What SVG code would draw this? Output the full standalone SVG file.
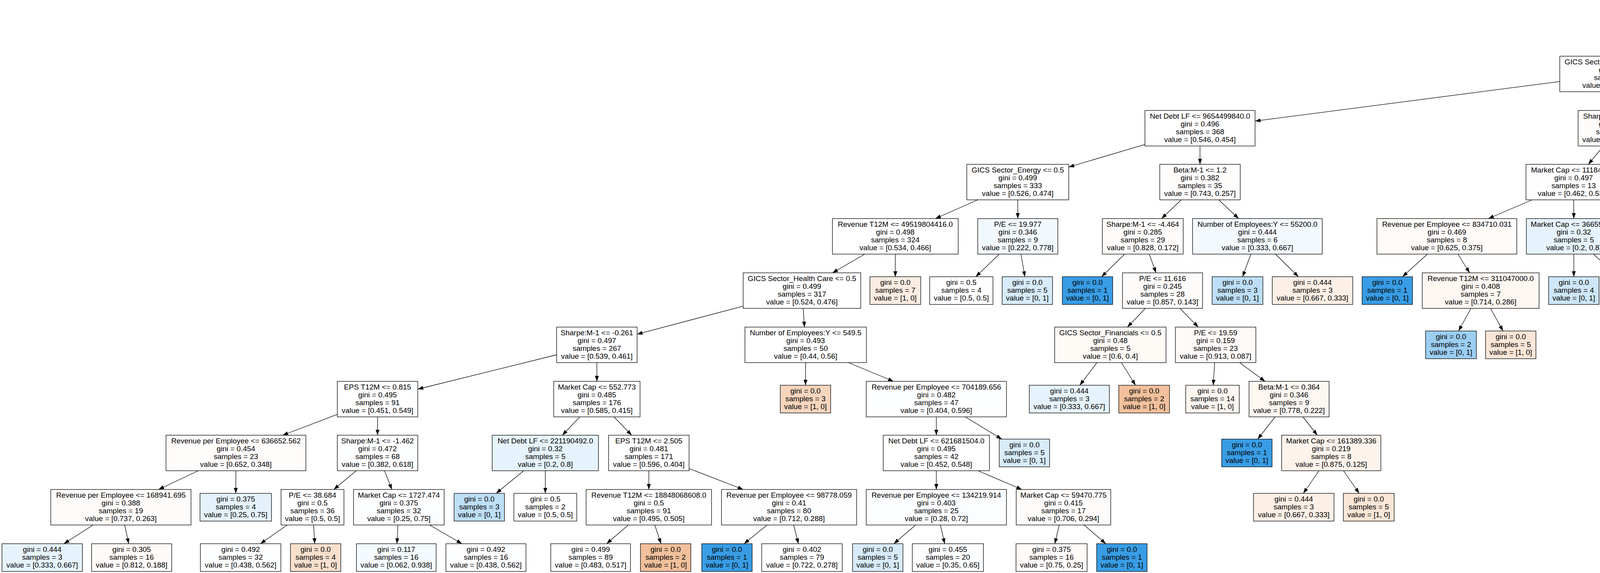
<svg xmlns="http://www.w3.org/2000/svg" width="6170" height="1468" viewBox="0 0 6170 1468">
<style>
.node rect{stroke:#000;stroke-width:1.3}
text{font-family:"Liberation Sans",Arial,Helvetica,sans-serif;font-size:19px;text-anchor:middle;fill:#000}
.edges path{stroke:#000;stroke-width:1.3;fill:none;marker-end:url(#ah)}
</style>
<defs>
<marker id="ah" viewBox="0 0 14 10" refX="14" refY="5" markerWidth="14" markerHeight="10" markerUnits="userSpaceOnUse" orient="auto"><path d="M0,0 L14,5 L0,10 z" fill="#000"/></marker>
</defs>
<rect x="0" y="0" width="6170" height="1468" fill="#ffffff"/>
<g id="edges" class="edges">
<path d="M4438.8 96 L4286.7 144"/>
<path d="M4704.1 96 L4850 150.8"/>
<path d="M3993 208.9 L3213 310.2"/>
<path d="M4142.5 235 L4142.5 283"/>
<path d="M4953 235 L4953 283"/>
<path d="M5056 227.8 L5224 290.4"/>
<path d="M2931 370.2 L2736 427.9"/>
<path d="M3072 374 L3072 421"/>
<path d="M4104.9 374 L4066.1 421"/>
<path d="M4180.3 374 L4219.2 421"/>
<path d="M4891 374 L4827 421"/>
<path d="M4974.1 374 L5000.5 431"/>
<path d="M5326.5 374 L5326.5 421"/>
<path d="M5400.4 374 L5492.9 431"/>
<path d="M2502.9 512 L2394.6 560"/>
<path d="M2605.5 512 L2605.5 560"/>
<path d="M3024 512 L2973.5 560"/>
<path d="M3120.1 512 L3170.9 560"/>
<path d="M3922.3 512 L3810.2 560"/>
<path d="M4028.5 512 L4029 560"/>
<path d="M4257 512 L4256.5 570"/>
<path d="M4312 512 L4382.1 570"/>
<path d="M4716.6 512 L4665.4 560"/>
<path d="M4809.2 512 L4855.8 560"/>
<path d="M5326.5 512 L5326.5 560"/>
<path d="M5438.3 512 L5556.2 560"/>
<path d="M2213.8 651 L2131.2 699"/>
<path d="M2292 651 L2292 709"/>
<path d="M2558.2 651 L2497.9 709"/>
<path d="M2613.5 651 L2623.7 709"/>
<path d="M2879.2 651 L2820.1 709"/>
<path d="M2942 651 L2959.5 699"/>
<path d="M3202.3 651 L3181 709"/>
<path d="M3265.2 651 L3324 709"/>
<path d="M3654.1 651 L3590.4 709"/>
<path d="M3732.3 651 L3762.2 699"/>
<path d="M4029 651 L4029 709"/>
<path d="M4079.1 651 L4142.9 709"/>
<path d="M4554.2 651 L4474 709"/>
<path d="M4617 651 L4617 709"/>
<path d="M4882.5 651 L4864 699"/>
<path d="M4957.6 651 L5018.4 699"/>
<path d="M5307.4 651 L5282.9 709"/>
<path d="M5370.2 651 L5416.3 699"/>
<path d="M5668 651 L5668 709"/>
<path d="M5748.5 651 L5833.5 699"/>
<path d="M1902.5 784.3 L1631 856.2"/>
<path d="M2056.1 790 L2059.4 838"/>
<path d="M2932.3 790 L2886.2 838"/>
<path d="M3020.5 790 L3067.5 838"/>
<path d="M3765.6 790 L3733.9 848"/>
<path d="M3815.7 790 L3847.8 848"/>
<path d="M4792 790 L4722.5 848"/>
<path d="M4847.5 790 L4848.7 848"/>
<path d="M5059.8 790 L5039.1 848"/>
<path d="M5122.8 790 L5182.5 848"/>
<path d="M5447.7 790 L5432.1 848"/>
<path d="M5526 790 L5595.5 838"/>
<path d="M5912.9 790 L5911.4 848"/>
<path d="M5969.6 790 L6040.6 848"/>
<path d="M1425 909 L1069.5 997"/>
<path d="M1528 929 L1528 977"/>
<path d="M2062.5 929 L2062 987"/>
<path d="M2172 929 L2287.5 977"/>
<path d="M2808.1 929 L2764.3 987"/>
<path d="M2870.8 929 L2906.9 987"/>
<path d="M3109.4 929 L3106 987"/>
<path d="M3173.5 929 L3238.5 977"/>
<path d="M5631.9 929 L5594.1 987"/>
<path d="M5690.6 929 L5727.8 987"/>
<path d="M863.5 1061.7 L723.5 1115"/>
<path d="M966.5 1068 L966.5 1115"/>
<path d="M1484.5 1068 L1439.5 1115"/>
<path d="M1571.9 1068 L1617.1 1115"/>
<path d="M2397 1068 L2397 1115"/>
<path d="M2471.3 1068 L2564.5 1125"/>
<path d="M3264.4 1068 L3219.8 1125"/>
<path d="M3335.6 1068 L3372.4 1115"/>
<path d="M507.6 1206 L405.9 1254"/>
<path d="M604 1206 L603.5 1264"/>
<path d="M912 1206 L854.5 1254"/>
<path d="M984.3 1206 L1003.2 1254"/>
<path d="M1340.7 1206 L1270.2 1264"/>
<path d="M1396 1206 L1396 1264"/>
<path d="M1661 1206 L1661 1254"/>
<path d="M1764 1200.4 L1902.5 1254"/>
<path d="M2397 1206 L2397 1254"/>
<path d="M2503.5 1206 L2616 1254"/>
<path d="M3376.6 1206 L3336.5 1264"/>
<path d="M3439.4 1206 L3479.5 1264"/>
<path d="M238.4 1345 L163.5 1393"/>
<path d="M319.2 1345 L329.4 1393"/>
<path d="M735.1 1345 L666.6 1393"/>
<path d="M802.8 1345 L805.8 1393"/>
<path d="M1018.7 1345 L1016.3 1393"/>
<path d="M1099.7 1345 L1182.6 1393"/>
<path d="M1608.4 1345 L1553 1393"/>
<path d="M1676.2 1345 L1692.2 1393"/>
<path d="M1963.9 1345 L1904.8 1393"/>
<path d="M2031.6 1345 L2043.9 1393"/>
<path d="M2344.1 1345 L2288.3 1393"/>
<path d="M2407.4 1345 L2418.4 1393"/>
<path d="M2711.7 1345 L2700.4 1393"/>
<path d="M2775.2 1345 L2830.9 1393"/>
</g>
<g id="edge-labels">
<text x="4300" y="120">True</text>
<text x="4836" y="125">False</text>
</g>
<rect x="4809" y="27" width="72" height="48" fill="#000000"/>
<g id="n0" class="node"><rect x="4381" y="5" width="404" height="91" fill="#ffffff"/><text y="26"><tspan x="4583">GICS Sector_Consumer Discretionary &lt;= 0.5</tspan><tspan x="4583" dy="20">gini = 0.488</tspan><tspan x="4583" dy="20">samples = 458</tspan><tspan x="4583" dy="20">value = [0.579, 0.421]</tspan></text></g>
<g id="n1" class="node"><rect x="3993" y="144" width="299" height="91" fill="#ffffff"/><text y="165"><tspan x="4142.5">GICS Sector_Real Estate &lt;= 0.5</tspan><tspan x="4142.5" dy="20">gini = 0.495</tspan><tspan x="4142.5" dy="20">samples = 391</tspan><tspan x="4142.5" dy="20">value = [0.552, 0.448]</tspan></text></g>
<g id="n2" class="node"><rect x="4850" y="144" width="206" height="91" fill="#fffefe"/><text y="165"><tspan x="4953">Sharpe:M-1 &lt;= -0.588</tspan><tspan x="4953" dy="20">gini = 0.393</tspan><tspan x="4953" dy="20">samples = 67</tspan><tspan x="4953" dy="20">value = [0.731, 0.269]</tspan></text></g>
<g id="n3" class="node"><rect x="2931" y="283" width="282" height="91" fill="#ffffff"/><text y="304"><tspan x="3072">Net Debt LF &lt;= 9654499840.0</tspan><tspan x="3072" dy="20">gini = 0.496</tspan><tspan x="3072" dy="20">samples = 368</tspan><tspan x="3072" dy="20">value = [0.546, 0.454]</tspan></text></g>
<g id="n4" class="node"><rect x="4040" y="283" width="205" height="91" fill="#fffdfc"/><text y="304"><tspan x="4142.5">Sharpe:M-1 &lt;= 0.207</tspan><tspan x="4142.5" dy="20">gini = 0.454</tspan><tspan x="4142.5" dy="20">samples = 23</tspan><tspan x="4142.5" dy="20">value = [0.652, 0.348]</tspan></text></g>
<g id="n9" class="node"><rect x="4832" y="283" width="242" height="91" fill="#fffefd"/><text y="304"><tspan x="4953">Market Cap &lt;= 13710.964</tspan><tspan x="4953" dy="20">gini = 0.464</tspan><tspan x="4953" dy="20">samples = 30</tspan><tspan x="4953" dy="20">value = [0.633, 0.367]</tspan></text></g>
<g id="n10" class="node"><rect x="5224" y="283" width="205" height="91" fill="#fffdfc"/><text y="304"><tspan x="5326.5">EPS T12M &lt;= 3.072</tspan><tspan x="5326.5" dy="20">gini = 0.307</tspan><tspan x="5326.5" dy="20">samples = 37</tspan><tspan x="5326.5" dy="20">value = [0.811, 0.189]</tspan></text></g>
<g id="n5" class="node"><rect x="2475" y="421" width="261" height="91" fill="#ffffff"/><text y="442"><tspan x="2605.5">GICS Sector_Energy &lt;= 0.5</tspan><tspan x="2605.5" dy="20">gini = 0.499</tspan><tspan x="2605.5" dy="20">samples = 333</tspan><tspan x="2605.5" dy="20">value = [0.526, 0.474]</tspan></text></g>
<g id="n6" class="node"><rect x="2969" y="421" width="206" height="91" fill="#fffdfc"/><text y="442"><tspan x="3072">Beta:M-1 &lt;= 1.2</tspan><tspan x="3072" dy="20">gini = 0.382</tspan><tspan x="3072" dy="20">samples = 35</tspan><tspan x="3072" dy="20">value = [0.743, 0.257]</tspan></text></g>
<g id="n7" class="node"><rect x="3906.5" y="421" width="244" height="91" fill="#fefeff"/><text y="442"><tspan x="4028.5">Market Cap &lt;= 11184.961</tspan><tspan x="4028.5" dy="20">gini = 0.497</tspan><tspan x="4028.5" dy="20">samples = 13</tspan><tspan x="4028.5" dy="20">value = [0.462, 0.538]</tspan></text></g>
<g id="n8" class="node"><rect x="4172" y="421" width="170" height="91" fill="#fdf5ef"/><text y="442"><tspan x="4257">Beta:M-1 &lt;= 0.71</tspan><tspan x="4257" dy="20">gini = 0.18</tspan><tspan x="4257" dy="20">samples = 10</tspan><tspan x="4257" dy="20">value = [0.9, 0.1]</tspan></text></g>
<g id="n19" class="node"><rect x="4629" y="421" width="272" height="91" fill="#fffdfc"/><text y="442"><tspan x="4765">Net Debt LF &lt;= 414603504.0</tspan><tspan x="4765" dy="20">gini = 0.426</tspan><tspan x="4765" dy="20">samples = 26</tspan><tspan x="4765" dy="20">value = [0.692, 0.308]</tspan></text></g>
<g id="n20" class="node"><rect x="4924.5" y="431" width="185" height="71" fill="#e5f2fc"/><text y="452"><tspan x="5017">gini = 0.375</tspan><tspan x="5017" dy="20">samples = 4</tspan><tspan x="5017" dy="20">value = [0.25, 0.75]</tspan></text></g>
<g id="n21" class="node"><rect x="5195.5" y="421" width="262" height="91" fill="#fffdfc"/><text y="442"><tspan x="5326.5">Net Debt LF &lt;= 83064000.0</tspan><tspan x="5326.5" dy="20">gini = 0.413</tspan><tspan x="5326.5" dy="20">samples = 24</tspan><tspan x="5326.5" dy="20">value = [0.708, 0.292]</tspan></text></g>
<g id="n22" class="node"><rect x="5481.5" y="431" width="138" height="71" fill="#fdf5f0"/><text y="452"><tspan x="5550.5">gini = 0.0</tspan><tspan x="5550.5" dy="20">samples = 13</tspan><tspan x="5550.5" dy="20">value = [1, 0]</tspan></text></g>
<g id="n11" class="node"><rect x="2131" y="560" width="322" height="91" fill="#ffffff"/><text y="581"><tspan x="2292">Revenue T12M &lt;= 49519804416.0</tspan><tspan x="2292" dy="20">gini = 0.498</tspan><tspan x="2292" dy="20">samples = 324</tspan><tspan x="2292" dy="20">value = [0.534, 0.466]</tspan></text></g>
<g id="n12" class="node"><rect x="2503" y="560" width="205" height="91" fill="#f2f9fd"/><text y="581"><tspan x="2605.5">P/E &lt;= 19.977</tspan><tspan x="2605.5" dy="20">gini = 0.346</tspan><tspan x="2605.5" dy="20">samples = 9</tspan><tspan x="2605.5" dy="20">value = [0.222, 0.778]</tspan></text></g>
<g id="n13" class="node"><rect x="2822" y="560" width="207" height="91" fill="#fefcfa"/><text y="581"><tspan x="2925.5">Sharpe:M-1 &lt;= -4.464</tspan><tspan x="2925.5" dy="20">gini = 0.285</tspan><tspan x="2925.5" dy="20">samples = 29</tspan><tspan x="2925.5" dy="20">value = [0.828, 0.172]</tspan></text></g>
<g id="n14" class="node"><rect x="3053" y="560" width="332" height="91" fill="#f3f9fd"/><text y="581"><tspan x="3219">Number of Employees:Y &lt;= 55200.0</tspan><tspan x="3219" dy="20">gini = 0.444</tspan><tspan x="3219" dy="20">samples = 6</tspan><tspan x="3219" dy="20">value = [0.333, 0.667]</tspan></text></g>
<g id="n15" class="node"><rect x="3525" y="560" width="358" height="91" fill="#fefbf8"/><text y="581"><tspan x="3704">Revenue per Employee &lt;= 834710.031</tspan><tspan x="3704" dy="20">gini = 0.469</tspan><tspan x="3704" dy="20">samples = 8</tspan><tspan x="3704" dy="20">value = [0.625, 0.375]</tspan></text></g>
<g id="n16" class="node"><rect x="3907.5" y="560" width="243" height="91" fill="#e6f3fc"/><text y="581"><tspan x="4029">Market Cap &lt;= 36659.513</tspan><tspan x="4029" dy="20">gini = 0.32</tspan><tspan x="4029" dy="20">samples = 5</tspan><tspan x="4029" dy="20">value = [0.2, 0.8]</tspan></text></g>
<g id="n17" class="node"><rect x="4175.5" y="570" width="162" height="71" fill="#ffffff"/><text y="591"><tspan x="4256.5">gini = 0.5</tspan><tspan x="4256.5" dy="20">samples = 2</tspan><tspan x="4256.5" dy="20">value = [0.5, 0.5]</tspan></text></g>
<g id="n18" class="node"><rect x="4360" y="570" width="130" height="71" fill="#fcefe6"/><text y="591"><tspan x="4425">gini = 0.0</tspan><tspan x="4425" dy="20">samples = 8</tspan><tspan x="4425" dy="20">value = [1, 0]</tspan></text></g>
<g id="n23" class="node"><rect x="4514.5" y="560" width="205" height="91" fill="#fdf6f0"/><text y="581"><tspan x="4617">Beta:M-1 &lt;= 2.133</tspan><tspan x="4617" dy="20">gini = 0.165</tspan><tspan x="4617" dy="20">samples = 11</tspan><tspan x="4617" dy="20">value = [0.909, 0.091]</tspan></text></g>
<g id="n24" class="node"><rect x="4744.5" y="560" width="311" height="91" fill="#fffefe"/><text y="581"><tspan x="4900">Revenue T12M &lt;= 3368857472.0</tspan><tspan x="4900" dy="20">gini = 0.498</tspan><tspan x="4900" dy="20">samples = 15</tspan><tspan x="4900" dy="20">value = [0.533, 0.467]</tspan></text></g>
<g id="n25" class="node"><rect x="5228.5" y="560" width="196" height="91" fill="#ffffff"/><text y="581"><tspan x="5326.5">EPS T12M &lt;= 0.655</tspan><tspan x="5326.5" dy="20">gini = 0.5</tspan><tspan x="5326.5" dy="20">samples = 10</tspan><tspan x="5326.5" dy="20">value = [0.5, 0.5]</tspan></text></g>
<g id="n26" class="node"><rect x="5507.5" y="560" width="321" height="91" fill="#fef9f5"/><text y="581"><tspan x="5668">Number of Employees:Y &lt;= 5200.0</tspan><tspan x="5668" dy="20">gini = 0.245</tspan><tspan x="5668" dy="20">samples = 14</tspan><tspan x="5668" dy="20">value = [0.857, 0.143]</tspan></text></g>
<g id="n27" class="node"><rect x="1902.5" y="699" width="301" height="91" fill="#ffffff"/><text y="720"><tspan x="2053">GICS Sector_Health Care &lt;= 0.5</tspan><tspan x="2053" dy="20">gini = 0.499</tspan><tspan x="2053" dy="20">samples = 317</tspan><tspan x="2053" dy="20">value = [0.524, 0.476]</tspan></text></g>
<g id="n28" class="node"><rect x="2227" y="709" width="130" height="71" fill="#fbede3"/><text y="730"><tspan x="2292">gini = 0.0</tspan><tspan x="2292" dy="20">samples = 7</tspan><tspan x="2292" dy="20">value = [1, 0]</tspan></text></g>
<g id="n29" class="node"><rect x="2380" y="709" width="162" height="71" fill="#ffffff"/><text y="730"><tspan x="2461">gini = 0.5</tspan><tspan x="2461" dy="20">samples = 4</tspan><tspan x="2461" dy="20">value = [0.5, 0.5]</tspan></text></g>
<g id="n30" class="node"><rect x="2565.5" y="709" width="129" height="71" fill="#d7ebfa"/><text y="730"><tspan x="2630">gini = 0.0</tspan><tspan x="2630" dy="20">samples = 5</tspan><tspan x="2630" dy="20">value = [0, 1]</tspan></text></g>
<g id="n31" class="node"><rect x="2719.5" y="709" width="129" height="71" fill="#399de5"/><text y="730"><tspan x="2784">gini = 0.0</tspan><tspan x="2784" dy="20">samples = 1</tspan><tspan x="2784" dy="20">value = [0, 1]</tspan></text></g>
<g id="n32" class="node"><rect x="2873.5" y="699" width="205" height="91" fill="#fefcfa"/><text y="720"><tspan x="2976">P/E &lt;= 11.616</tspan><tspan x="2976" dy="20">gini = 0.245</tspan><tspan x="2976" dy="20">samples = 28</tspan><tspan x="2976" dy="20">value = [0.857, 0.143]</tspan></text></g>
<g id="n33" class="node"><rect x="3103" y="709" width="130" height="71" fill="#bddef6"/><text y="730"><tspan x="3168">gini = 0.0</tspan><tspan x="3168" dy="20">samples = 3</tspan><tspan x="3168" dy="20">value = [0, 1]</tspan></text></g>
<g id="n34" class="node"><rect x="3257" y="709" width="206" height="71" fill="#fcefe6"/><text y="730"><tspan x="3360">gini = 0.444</tspan><tspan x="3360" dy="20">samples = 3</tspan><tspan x="3360" dy="20">value = [0.667, 0.333]</tspan></text></g>
<g id="n35" class="node"><rect x="3487" y="709" width="129" height="71" fill="#399de5"/><text y="730"><tspan x="3551.5">gini = 0.0</tspan><tspan x="3551.5" dy="20">samples = 1</tspan><tspan x="3551.5" dy="20">value = [0, 1]</tspan></text></g>
<g id="n36" class="node"><rect x="3641" y="699" width="299" height="91" fill="#fdf7f2"/><text y="720"><tspan x="3790.5">Revenue T12M &lt;= 311047000.0</tspan><tspan x="3790.5" dy="20">gini = 0.408</tspan><tspan x="3790.5" dy="20">samples = 7</tspan><tspan x="3790.5" dy="20">value = [0.714, 0.286]</tspan></text></g>
<g id="n37" class="node"><rect x="3964.5" y="709" width="129" height="71" fill="#cee6f8"/><text y="730"><tspan x="4029">gini = 0.0</tspan><tspan x="4029" dy="20">samples = 4</tspan><tspan x="4029" dy="20">value = [0, 1]</tspan></text></g>
<g id="n38" class="node"><rect x="4117" y="709" width="130" height="71" fill="#e58139"/><text y="730"><tspan x="4182">gini = 0.0</tspan><tspan x="4182" dy="20">samples = 1</tspan><tspan x="4182" dy="20">value = [1, 0]</tspan></text></g>
<g id="n39" class="node"><rect x="4360" y="709" width="130" height="71" fill="#fcefe6"/><text y="730"><tspan x="4425">gini = 0.0</tspan><tspan x="4425" dy="20">samples = 8</tspan><tspan x="4425" dy="20">value = [1, 0]</tspan></text></g>
<g id="n40" class="node"><rect x="4514.5" y="709" width="205" height="71" fill="#fcefe6"/><text y="730"><tspan x="4617">gini = 0.444</tspan><tspan x="4617" dy="20">samples = 3</tspan><tspan x="4617" dy="20">value = [0.667, 0.333]</tspan></text></g>
<g id="n41" class="node"><rect x="4744" y="699" width="205" height="91" fill="#e8f4fc"/><text y="720"><tspan x="4846.5">EPS T12M &lt;= 1.425</tspan><tspan x="4846.5" dy="20">gini = 0.278</tspan><tspan x="4846.5" dy="20">samples = 6</tspan><tspan x="4846.5" dy="20">value = [0.167, 0.833]</tspan></text></g>
<g id="n42" class="node"><rect x="4973" y="699" width="206" height="91" fill="#fdf7f2"/><text y="720"><tspan x="5076">Beta:M-1 &lt;= 1.512</tspan><tspan x="5076" dy="20">gini = 0.346</tspan><tspan x="5076" dy="20">samples = 9</tspan><tspan x="5076" dy="20">value = [0.778, 0.222]</tspan></text></g>
<g id="n43" class="node"><rect x="5203.5" y="709" width="129" height="71" fill="#9ccef2"/><text y="730"><tspan x="5268">gini = 0.0</tspan><tspan x="5268" dy="20">samples = 2</tspan><tspan x="5268" dy="20">value = [0, 1]</tspan></text></g>
<g id="n44" class="node"><rect x="5357" y="699" width="206" height="91" fill="#fefbf8"/><text y="720"><tspan x="5460">Sharpe:M-1 &lt;= 2.184</tspan><tspan x="5460" dy="20">gini = 0.469</tspan><tspan x="5460" dy="20">samples = 8</tspan><tspan x="5460" dy="20">value = [0.625, 0.375]</tspan></text></g>
<g id="n45" class="node"><rect x="5587.5" y="709" width="161" height="71" fill="#ffffff"/><text y="730"><tspan x="5668">gini = 0.5</tspan><tspan x="5668" dy="20">samples = 2</tspan><tspan x="5668" dy="20">value = [0.5, 0.5]</tspan></text></g>
<g id="n46" class="node"><rect x="5772.5" y="699" width="283" height="91" fill="#fdf6f1"/><text y="720"><tspan x="5914">Net Debt LF &lt;= 3552632576.0</tspan><tspan x="5914" dy="20">gini = 0.153</tspan><tspan x="5914" dy="20">samples = 12</tspan><tspan x="5914" dy="20">value = [0.917, 0.083]</tspan></text></g>
<g id="n47" class="node"><rect x="1425" y="838" width="206" height="91" fill="#ffffff"/><text y="859"><tspan x="1528">Sharpe:M-1 &lt;= -0.261</tspan><tspan x="1528" dy="20">gini = 0.497</tspan><tspan x="1528" dy="20">samples = 267</tspan><tspan x="1528" dy="20">value = [0.539, 0.461]</tspan></text></g>
<g id="n48" class="node"><rect x="1907" y="838" width="311" height="91" fill="#ffffff"/><text y="859"><tspan x="2062.5">Number of Employees:Y &lt;= 549.5</tspan><tspan x="2062.5" dy="20">gini = 0.493</tspan><tspan x="2062.5" dy="20">samples = 50</tspan><tspan x="2062.5" dy="20">value = [0.44, 0.56]</tspan></text></g>
<g id="n49" class="node"><rect x="2700" y="838" width="285" height="91" fill="#fefaf6"/><text y="859"><tspan x="2842.5">GICS Sector_Financials &lt;= 0.5</tspan><tspan x="2842.5" dy="20">gini = 0.48</tspan><tspan x="2842.5" dy="20">samples = 5</tspan><tspan x="2842.5" dy="20">value = [0.6, 0.4]</tspan></text></g>
<g id="n50" class="node"><rect x="3009" y="838" width="206" height="91" fill="#fefaf8"/><text y="859"><tspan x="3112">P/E &lt;= 19.59</tspan><tspan x="3112" dy="20">gini = 0.159</tspan><tspan x="3112" dy="20">samples = 23</tspan><tspan x="3112" dy="20">value = [0.913, 0.087]</tspan></text></g>
<g id="n51" class="node"><rect x="3649.5" y="848" width="130" height="71" fill="#9ccef2"/><text y="869"><tspan x="3714.5">gini = 0.0</tspan><tspan x="3714.5" dy="20">samples = 2</tspan><tspan x="3714.5" dy="20">value = [0, 1]</tspan></text></g>
<g id="n52" class="node"><rect x="3803" y="848" width="129" height="71" fill="#fae6d7"/><text y="869"><tspan x="3867.5">gini = 0.0</tspan><tspan x="3867.5" dy="20">samples = 5</tspan><tspan x="3867.5" dy="20">value = [1, 0]</tspan></text></g>
<g id="n53" class="node"><rect x="4599.5" y="848" width="161" height="71" fill="#ffffff"/><text y="869"><tspan x="4680">gini = 0.5</tspan><tspan x="4680" dy="20">samples = 2</tspan><tspan x="4680" dy="20">value = [0.5, 0.5]</tspan></text></g>
<g id="n54" class="node"><rect x="4784.5" y="848" width="130" height="71" fill="#cee6f8"/><text y="869"><tspan x="4849.5">gini = 0.0</tspan><tspan x="4849.5" dy="20">samples = 4</tspan><tspan x="4849.5" dy="20">value = [0, 1]</tspan></text></g>
<g id="n55" class="node"><rect x="4961.5" y="848" width="130" height="71" fill="#fbeade"/><text y="869"><tspan x="5026.5">gini = 0.0</tspan><tspan x="5026.5" dy="20">samples = 6</tspan><tspan x="5026.5" dy="20">value = [1, 0]</tspan></text></g>
<g id="n56" class="node"><rect x="5116" y="848" width="206" height="71" fill="#e6f3fc"/><text y="869"><tspan x="5219">gini = 0.444</tspan><tspan x="5219" dy="20">samples = 3</tspan><tspan x="5219" dy="20">value = [0.333, 0.667]</tspan></text></g>
<g id="n57" class="node"><rect x="5357.5" y="848" width="130" height="71" fill="#f6d5bd"/><text y="869"><tspan x="5422.5">gini = 0.0</tspan><tspan x="5422.5" dy="20">samples = 3</tspan><tspan x="5422.5" dy="20">value = [1, 0]</tspan></text></g>
<g id="n58" class="node"><rect x="5512.5" y="838" width="298" height="91" fill="#f6fbfe"/><text y="859"><tspan x="5661.5">Revenue T12M &lt;= 769378016.0</tspan><tspan x="5661.5" dy="20">gini = 0.48</tspan><tspan x="5661.5" dy="20">samples = 5</tspan><tspan x="5661.5" dy="20">value = [0.4, 0.6]</tspan></text></g>
<g id="n59" class="node"><rect x="5842" y="848" width="137" height="71" fill="#fcf2eb"/><text y="869"><tspan x="5910.5">gini = 0.0</tspan><tspan x="5910.5" dy="20">samples = 10</tspan><tspan x="5910.5" dy="20">value = [1, 0]</tspan></text></g>
<g id="n60" class="node"><rect x="6003.5" y="848" width="161" height="71" fill="#ffffff"/><text y="869"><tspan x="6084">gini = 0.5</tspan><tspan x="6084" dy="20">samples = 2</tspan><tspan x="6084" dy="20">value = [0.5, 0.5]</tspan></text></g>
<g id="n61" class="node"><rect x="863.5" y="977" width="206" height="91" fill="#ffffff"/><text y="998"><tspan x="966.5">EPS T12M &lt;= 0.815</tspan><tspan x="966.5" dy="20">gini = 0.495</tspan><tspan x="966.5" dy="20">samples = 91</tspan><tspan x="966.5" dy="20">value = [0.451, 0.549]</tspan></text></g>
<g id="n62" class="node"><rect x="1417.5" y="977" width="221" height="91" fill="#ffffff"/><text y="998"><tspan x="1528">Market Cap &lt;= 552.773</tspan><tspan x="1528" dy="20">gini = 0.485</tspan><tspan x="1528" dy="20">samples = 176</tspan><tspan x="1528" dy="20">value = [0.585, 0.415]</tspan></text></g>
<g id="n63" class="node"><rect x="1997.5" y="987" width="129" height="71" fill="#f6d5bd"/><text y="1008"><tspan x="2062">gini = 0.0</tspan><tspan x="2062" dy="20">samples = 3</tspan><tspan x="2062" dy="20">value = [1, 0]</tspan></text></g>
<g id="n64" class="node"><rect x="2217.5" y="977" width="359" height="91" fill="#feffff"/><text y="998"><tspan x="2397">Revenue per Employee &lt;= 704189.656</tspan><tspan x="2397" dy="20">gini = 0.482</tspan><tspan x="2397" dy="20">samples = 47</tspan><tspan x="2397" dy="20">value = [0.404, 0.596]</tspan></text></g>
<g id="n65" class="node"><rect x="2635" y="987" width="205" height="71" fill="#e6f3fc"/><text y="1008"><tspan x="2737.5">gini = 0.444</tspan><tspan x="2737.5" dy="20">samples = 3</tspan><tspan x="2737.5" dy="20">value = [0.333, 0.667]</tspan></text></g>
<g id="n66" class="node"><rect x="2864" y="987" width="130" height="71" fill="#f2c09c"/><text y="1008"><tspan x="2929">gini = 0.0</tspan><tspan x="2929" dy="20">samples = 2</tspan><tspan x="2929" dy="20">value = [1, 0]</tspan></text></g>
<g id="n67" class="node"><rect x="3035.5" y="987" width="137" height="71" fill="#fdf6f1"/><text y="1008"><tspan x="3104">gini = 0.0</tspan><tspan x="3104" dy="20">samples = 14</tspan><tspan x="3104" dy="20">value = [1, 0]</tspan></text></g>
<g id="n68" class="node"><rect x="3197.5" y="977" width="205" height="91" fill="#fdf7f2"/><text y="998"><tspan x="3300">Beta:M-1 &lt;= 0.364</tspan><tspan x="3300" dy="20">gini = 0.346</tspan><tspan x="3300" dy="20">samples = 9</tspan><tspan x="3300" dy="20">value = [0.778, 0.222]</tspan></text></g>
<g id="n69" class="node"><rect x="5506.5" y="987" width="129" height="71" fill="#e58139"/><text y="1008"><tspan x="5571">gini = 0.0</tspan><tspan x="5571" dy="20">samples = 1</tspan><tspan x="5571" dy="20">value = [1, 0]</tspan></text></g>
<g id="n70" class="node"><rect x="5659" y="987" width="183" height="71" fill="#e5f2fc"/><text y="1008"><tspan x="5750.5">gini = 0.375</tspan><tspan x="5750.5" dy="20">samples = 4</tspan><tspan x="5750.5" dy="20">value = [0.25, 0.75]</tspan></text></g>
<g id="n71" class="node"><rect x="425" y="1115" width="358" height="91" fill="#fffdfc"/><text y="1136"><tspan x="604">Revenue per Employee &lt;= 636652.562</tspan><tspan x="604" dy="20">gini = 0.454</tspan><tspan x="604" dy="20">samples = 23</tspan><tspan x="604" dy="20">value = [0.652, 0.348]</tspan></text></g>
<g id="n72" class="node"><rect x="863.5" y="1115" width="206" height="91" fill="#feffff"/><text y="1136"><tspan x="966.5">Sharpe:M-1 &lt;= -1.462</tspan><tspan x="966.5" dy="20">gini = 0.472</tspan><tspan x="966.5" dy="20">samples = 68</tspan><tspan x="966.5" dy="20">value = [0.382, 0.618]</tspan></text></g>
<g id="n73" class="node"><rect x="1260" y="1115" width="272" height="91" fill="#e6f3fc"/><text y="1136"><tspan x="1396">Net Debt LF &lt;= 221190492.0</tspan><tspan x="1396" dy="20">gini = 0.32</tspan><tspan x="1396" dy="20">samples = 5</tspan><tspan x="1396" dy="20">value = [0.2, 0.8]</tspan></text></g>
<g id="n74" class="node"><rect x="1558" y="1115" width="206" height="91" fill="#ffffff"/><text y="1136"><tspan x="1661">EPS T12M &lt;= 2.505</tspan><tspan x="1661" dy="20">gini = 0.481</tspan><tspan x="1661" dy="20">samples = 171</tspan><tspan x="1661" dy="20">value = [0.596, 0.404]</tspan></text></g>
<g id="n75" class="node"><rect x="2261" y="1115" width="272" height="91" fill="#ffffff"/><text y="1136"><tspan x="2397">Net Debt LF &lt;= 621681504.0</tspan><tspan x="2397" dy="20">gini = 0.495</tspan><tspan x="2397" dy="20">samples = 42</tspan><tspan x="2397" dy="20">value = [0.452, 0.548]</tspan></text></g>
<g id="n76" class="node"><rect x="2558" y="1125" width="129" height="71" fill="#d7ebfa"/><text y="1146"><tspan x="2622.5">gini = 0.0</tspan><tspan x="2622.5" dy="20">samples = 5</tspan><tspan x="2622.5" dy="20">value = [0, 1]</tspan></text></g>
<g id="n77" class="node"><rect x="3127.5" y="1125" width="129" height="71" fill="#399de5"/><text y="1146"><tspan x="3192">gini = 0.0</tspan><tspan x="3192" dy="20">samples = 1</tspan><tspan x="3192" dy="20">value = [0, 1]</tspan></text></g>
<g id="n78" class="node"><rect x="3281" y="1115" width="254" height="91" fill="#fdf3ec"/><text y="1136"><tspan x="3408">Market Cap &lt;= 161389.336</tspan><tspan x="3408" dy="20">gini = 0.219</tspan><tspan x="3408" dy="20">samples = 8</tspan><tspan x="3408" dy="20">value = [0.875, 0.125]</tspan></text></g>
<g id="n79" class="node"><rect x="130" y="1254" width="359" height="91" fill="#fefcfa"/><text y="1275"><tspan x="309.5">Revenue per Employee &lt;= 168941.695</tspan><tspan x="309.5" dy="20">gini = 0.388</tspan><tspan x="309.5" dy="20">samples = 19</tspan><tspan x="309.5" dy="20">value = [0.737, 0.263]</tspan></text></g>
<g id="n80" class="node"><rect x="512" y="1264" width="183" height="71" fill="#e5f2fc"/><text y="1285"><tspan x="603.5">gini = 0.375</tspan><tspan x="603.5" dy="20">samples = 4</tspan><tspan x="603.5" dy="20">value = [0.25, 0.75]</tspan></text></g>
<g id="n81" class="node"><rect x="719.5" y="1254" width="161" height="91" fill="#ffffff"/><text y="1275"><tspan x="800">P/E &lt;= 38.684</tspan><tspan x="800" dy="20">gini = 0.5</tspan><tspan x="800" dy="20">samples = 36</tspan><tspan x="800" dy="20">value = [0.5, 0.5]</tspan></text></g>
<g id="n82" class="node"><rect x="905" y="1254" width="232" height="91" fill="#fcfdff"/><text y="1275"><tspan x="1021">Market Cap &lt;= 1727.474</tspan><tspan x="1021" dy="20">gini = 0.375</tspan><tspan x="1021" dy="20">samples = 32</tspan><tspan x="1021" dy="20">value = [0.25, 0.75]</tspan></text></g>
<g id="n83" class="node"><rect x="1162.5" y="1264" width="129" height="71" fill="#bddef6"/><text y="1285"><tspan x="1227">gini = 0.0</tspan><tspan x="1227" dy="20">samples = 3</tspan><tspan x="1227" dy="20">value = [0, 1]</tspan></text></g>
<g id="n84" class="node"><rect x="1315.5" y="1264" width="161" height="71" fill="#ffffff"/><text y="1285"><tspan x="1396">gini = 0.5</tspan><tspan x="1396" dy="20">samples = 2</tspan><tspan x="1396" dy="20">value = [0.5, 0.5]</tspan></text></g>
<g id="n85" class="node"><rect x="1500.5" y="1254" width="321" height="91" fill="#ffffff"/><text y="1275"><tspan x="1661">Revenue T12M &lt;= 18848068608.0</tspan><tspan x="1661" dy="20">gini = 0.5</tspan><tspan x="1661" dy="20">samples = 91</tspan><tspan x="1661" dy="20">value = [0.495, 0.505]</tspan></text></g>
<g id="n86" class="node"><rect x="1847" y="1254" width="346" height="91" fill="#fffefe"/><text y="1275"><tspan x="2020">Revenue per Employee &lt;= 98778.059</tspan><tspan x="2020" dy="20">gini = 0.41</tspan><tspan x="2020" dy="20">samples = 80</tspan><tspan x="2020" dy="20">value = [0.712, 0.288]</tspan></text></g>
<g id="n87" class="node"><rect x="2217.5" y="1254" width="359" height="91" fill="#fbfdff"/><text y="1275"><tspan x="2397">Revenue per Employee &lt;= 134219.914</tspan><tspan x="2397" dy="20">gini = 0.403</tspan><tspan x="2397" dy="20">samples = 25</tspan><tspan x="2397" dy="20">value = [0.28, 0.72]</tspan></text></g>
<g id="n88" class="node"><rect x="2601.5" y="1254" width="242" height="91" fill="#fefcfa"/><text y="1275"><tspan x="2722.5">Market Cap &lt;= 59470.775</tspan><tspan x="2722.5" dy="20">gini = 0.415</tspan><tspan x="2722.5" dy="20">samples = 17</tspan><tspan x="2722.5" dy="20">value = [0.706, 0.294]</tspan></text></g>
<g id="n89" class="node"><rect x="3209" y="1264" width="206" height="71" fill="#fcefe6"/><text y="1285"><tspan x="3312">gini = 0.444</tspan><tspan x="3312" dy="20">samples = 3</tspan><tspan x="3312" dy="20">value = [0.667, 0.333]</tspan></text></g>
<g id="n90" class="node"><rect x="3439" y="1264" width="130" height="71" fill="#fae6d7"/><text y="1285"><tspan x="3504">gini = 0.0</tspan><tspan x="3504" dy="20">samples = 5</tspan><tspan x="3504" dy="20">value = [1, 0]</tspan></text></g>
<g id="n91" class="node"><rect x="5" y="1393" width="206" height="71" fill="#e6f3fc"/><text y="1414"><tspan x="108">gini = 0.444</tspan><tspan x="108" dy="20">samples = 3</tspan><tspan x="108" dy="20">value = [0.333, 0.667]</tspan></text></g>
<g id="n92" class="node"><rect x="234.5" y="1393" width="205" height="71" fill="#fefaf7"/><text y="1414"><tspan x="337">gini = 0.305</tspan><tspan x="337" dy="20">samples = 16</tspan><tspan x="337" dy="20">value = [0.812, 0.188]</tspan></text></g>
<g id="n93" class="node"><rect x="513" y="1393" width="206" height="71" fill="#feffff"/><text y="1414"><tspan x="616">gini = 0.492</tspan><tspan x="616" dy="20">samples = 32</tspan><tspan x="616" dy="20">value = [0.438, 0.562]</tspan></text></g>
<g id="n94" class="node"><rect x="743.5" y="1393" width="129" height="71" fill="#f8e0ce"/><text y="1414"><tspan x="808">gini = 0.0</tspan><tspan x="808" dy="20">samples = 4</tspan><tspan x="808" dy="20">value = [1, 0]</tspan></text></g>
<g id="n95" class="node"><rect x="912.5" y="1393" width="204" height="71" fill="#f4fafe"/><text y="1414"><tspan x="1014.5">gini = 0.117</tspan><tspan x="1014.5" dy="20">samples = 16</tspan><tspan x="1014.5" dy="20">value = [0.062, 0.938]</tspan></text></g>
<g id="n96" class="node"><rect x="1141.5" y="1393" width="205" height="71" fill="#fdfeff"/><text y="1414"><tspan x="1244">gini = 0.492</tspan><tspan x="1244" dy="20">samples = 16</tspan><tspan x="1244" dy="20">value = [0.438, 0.562]</tspan></text></g>
<g id="n97" class="node"><rect x="1410" y="1393" width="204" height="71" fill="#ffffff"/><text y="1414"><tspan x="1512">gini = 0.499</tspan><tspan x="1512" dy="20">samples = 89</tspan><tspan x="1512" dy="20">value = [0.483, 0.517]</tspan></text></g>
<g id="n98" class="node"><rect x="1639.5" y="1393" width="129" height="71" fill="#f2c09c"/><text y="1414"><tspan x="1704">gini = 0.0</tspan><tspan x="1704" dy="20">samples = 2</tspan><tspan x="1704" dy="20">value = [1, 0]</tspan></text></g>
<g id="n99" class="node"><rect x="1796.5" y="1393" width="129" height="71" fill="#399de5"/><text y="1414"><tspan x="1861">gini = 0.0</tspan><tspan x="1861" dy="20">samples = 1</tspan><tspan x="1861" dy="20">value = [0, 1]</tspan></text></g>
<g id="n100" class="node"><rect x="1950" y="1393" width="206" height="71" fill="#fffefe"/><text y="1414"><tspan x="2053">gini = 0.402</tspan><tspan x="2053" dy="20">samples = 79</tspan><tspan x="2053" dy="20">value = [0.722, 0.278]</tspan></text></g>
<g id="n101" class="node"><rect x="2182.5" y="1393" width="129" height="71" fill="#d7ebfa"/><text y="1414"><tspan x="2247">gini = 0.0</tspan><tspan x="2247" dy="20">samples = 5</tspan><tspan x="2247" dy="20">value = [0, 1]</tspan></text></g>
<g id="n102" class="node"><rect x="2335.5" y="1393" width="182" height="71" fill="#fcfdff"/><text y="1414"><tspan x="2426.5">gini = 0.455</tspan><tspan x="2426.5" dy="20">samples = 20</tspan><tspan x="2426.5" dy="20">value = [0.35, 0.65]</tspan></text></g>
<g id="n103" class="node"><rect x="2601" y="1393" width="182" height="71" fill="#fefbf9"/><text y="1414"><tspan x="2692">gini = 0.375</tspan><tspan x="2692" dy="20">samples = 16</tspan><tspan x="2692" dy="20">value = [0.75, 0.25]</tspan></text></g>
<g id="n104" class="node"><rect x="2807.5" y="1393" width="129" height="71" fill="#399de5"/><text y="1414"><tspan x="2872">gini = 0.0</tspan><tspan x="2872" dy="20">samples = 1</tspan><tspan x="2872" dy="20">value = [0, 1]</tspan></text></g>
</svg>
